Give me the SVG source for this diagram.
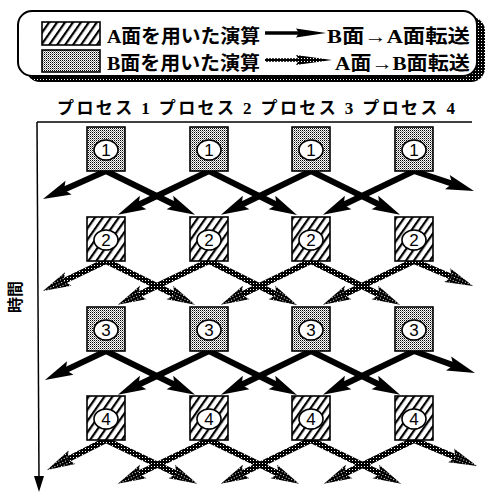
<svg xmlns="http://www.w3.org/2000/svg" width="487" height="493" viewBox="0 0 487 493">
<style>
.jp{font-family:"Liberation Serif","Noto Sans CJK JP",serif;font-weight:bold;fill:#000}
.lg{font-size:19px}
.num{font-family:"Liberation Sans",Arial,sans-serif;font-size:17px;text-anchor:middle;fill:#000}
.box{stroke:#000;stroke-width:1.6}
.bs{fill:url(#stipLight)}
.bh{fill:url(#hatch)}
.ring{fill:#fff;stroke:#000;stroke-width:1.6}
.sa{stroke:#000;stroke-width:6;fill:none;marker-end:url(#hs)}
.ta{stroke:url(#stipDark);stroke-width:6;fill:none;marker-end:url(#ht)}
</style>
<defs>
<pattern id="stipLight" width="2" height="2" patternUnits="userSpaceOnUse">
<rect width="2" height="2" fill="#fff"/>
<rect width="1" height="1" fill="#000"/>
<rect x="1" y="1" width="1" height="1" fill="#888"/>
</pattern>
<pattern id="stipDark" width="3" height="3" patternUnits="userSpaceOnUse">
<rect width="3" height="3" fill="#000"/>
<rect x="1" y="1" width="1" height="1" fill="#fff"/>
</pattern>
<pattern id="hatch" width="6.5" height="6.5" patternUnits="userSpaceOnUse" patternTransform="rotate(35)">
<rect width="6.5" height="6.5" fill="#fff"/>
<rect width="2.2" height="6.5" fill="#000"/>
</pattern>
<marker id="hs" markerUnits="userSpaceOnUse" markerWidth="30" markerHeight="16" refX="12" refY="8" orient="auto" overflow="visible">
<path d="M0,0.5 L28,8 L0,15.5 L5,8 Z" fill="#000"/>
</marker>
<marker id="ht" markerUnits="userSpaceOnUse" markerWidth="30" markerHeight="16" refX="12" refY="8" orient="auto" overflow="visible">
<path d="M0,0.5 L28,8 L0,15.5 L5,8 Z" fill="url(#stipDark)"/>
</marker>
</defs>
<rect width="487" height="493" fill="#fff"/>

<g id="legend">
<rect x="26" y="17" width="459" height="65" rx="14" fill="url(#stipDark)"/>
<rect x="18" y="11" width="459" height="65" rx="14" fill="#fff" stroke="#000" stroke-width="2"/>
<rect x="42" y="22" width="58" height="23" class="box bh"/>
<text x="107" y="43" class="jp lg" textLength="153" lengthAdjust="spacingAndGlyphs">A面を用いた演算</text>
<line x1="265" y1="33" x2="300" y2="33" stroke="#000" stroke-width="3.5"/>
<path d="M296,28.5 L326,33 L296,37.5 L299,33 Z" fill="#000"/>
<text x="327" y="43" class="jp lg" textLength="143" lengthAdjust="spacingAndGlyphs">B面→A面転送</text>
<rect x="42" y="50" width="58" height="22" class="box bs"/>
<text x="107" y="70" class="jp lg" textLength="153" lengthAdjust="spacingAndGlyphs">B面を用いた演算</text>
<line x1="265" y1="60" x2="300" y2="60" stroke="url(#stipDark)" stroke-width="3.5"/>
<path d="M296,55 L332,60 L296,65 L299,60 Z" fill="url(#stipDark)"/>
<text x="335" y="70" class="jp lg" textLength="135" lengthAdjust="spacingAndGlyphs">A面→B面転送</text>
</g>

<g id="axes">
<text x="57" y="114" class="jp" font-size="17" textLength="398" lengthAdjust="spacing">プロセス 1 プロセス 2 プロセス 3 プロセス 4</text>
<line x1="37" y1="122" x2="472" y2="122" stroke="#000" stroke-width="1.5"/>
<line x1="37" y1="122" x2="39" y2="480" stroke="#000" stroke-width="1.5"/>
<path d="M34,476 L44,476 L39,492 Z" fill="#000"/>
<text transform="translate(21,297) rotate(-90)" class="jp" font-size="16" text-anchor="middle">時間</text>
</g>

<g id="connectors">
<line class="sa" x1="106" y1="171" x2="57.6" y2="192.5"/>
<line class="sa" x1="106" y1="171" x2="180.7" y2="207.8"/>
<line class="sa" x1="209" y1="171" x2="132.3" y2="207.8"/>
<line class="sa" x1="209" y1="171" x2="282.7" y2="207.8"/>
<line class="sa" x1="311" y1="171" x2="235.3" y2="207.8"/>
<line class="sa" x1="311" y1="171" x2="385.7" y2="207.8"/>
<line class="sa" x1="414" y1="171" x2="337.3" y2="207.8"/>
<line class="sa" x1="414" y1="171" x2="458.8" y2="185.9"/>

<line class="ta" x1="106" y1="261" x2="57.4" y2="284.1"/>
<line class="ta" x1="106" y1="261" x2="180.7" y2="297.8"/>
<line class="ta" x1="209" y1="261" x2="132.3" y2="297.8"/>
<line class="ta" x1="209" y1="261" x2="282.7" y2="297.8"/>
<line class="ta" x1="311" y1="261" x2="235.3" y2="297.8"/>
<line class="ta" x1="311" y1="261" x2="385.7" y2="297.8"/>
<line class="ta" x1="414" y1="261" x2="337.3" y2="297.8"/>
<line class="ta" x1="414" y1="261" x2="458.3" y2="279.8"/>

<line class="sa" x1="106" y1="351" x2="59.4" y2="373.1"/>
<line class="sa" x1="106" y1="351" x2="180.7" y2="387.8"/>
<line class="sa" x1="209" y1="351" x2="132.3" y2="387.8"/>
<line class="sa" x1="209" y1="351" x2="282.7" y2="387.8"/>
<line class="sa" x1="311" y1="351" x2="235.3" y2="387.8"/>
<line class="sa" x1="311" y1="351" x2="385.7" y2="387.8"/>
<line class="sa" x1="414" y1="351" x2="337.3" y2="387.8"/>
<line class="sa" x1="414" y1="351" x2="459.9" y2="367.6"/>

<line class="ta" x1="106" y1="440" x2="61.3" y2="462.7"/>
<line class="ta" x1="106" y1="440" x2="182.7" y2="476.8"/>
<line class="ta" x1="209" y1="440" x2="132.3" y2="476.8"/>
<line class="ta" x1="209" y1="440" x2="284.7" y2="476.8"/>
<line class="ta" x1="311" y1="440" x2="235.3" y2="476.8"/>
<line class="ta" x1="311" y1="440" x2="386.7" y2="476.8"/>
<line class="ta" x1="414" y1="440" x2="338.3" y2="476.8"/>
<line class="ta" x1="414" y1="440" x2="462.2" y2="459.9"/>
</g>

<g id="p1-s1"><rect x="87" y="127" width="38" height="44" class="box bs"/><ellipse cx="106" cy="150" rx="12" ry="10" class="ring"/><text x="106" y="156" class="num">1</text></g>
<g id="p2-s1"><rect x="190" y="127" width="38" height="44" class="box bs"/><ellipse cx="209" cy="150" rx="12" ry="10" class="ring"/><text x="209" y="156" class="num">1</text></g>
<g id="p3-s1"><rect x="292" y="127" width="38" height="44" class="box bs"/><ellipse cx="311" cy="150" rx="12" ry="10" class="ring"/><text x="311" y="156" class="num">1</text></g>
<g id="p4-s1"><rect x="395" y="127" width="38" height="44" class="box bs"/><ellipse cx="414" cy="150" rx="12" ry="10" class="ring"/><text x="414" y="156" class="num">1</text></g>

<g id="p1-s2"><rect x="87" y="217" width="38" height="44" class="box bh"/><ellipse cx="106" cy="240" rx="12" ry="10" class="ring"/><text x="106" y="246" class="num">2</text></g>
<g id="p2-s2"><rect x="190" y="217" width="38" height="44" class="box bh"/><ellipse cx="209" cy="240" rx="12" ry="10" class="ring"/><text x="209" y="246" class="num">2</text></g>
<g id="p3-s2"><rect x="292" y="217" width="38" height="44" class="box bh"/><ellipse cx="311" cy="240" rx="12" ry="10" class="ring"/><text x="311" y="246" class="num">2</text></g>
<g id="p4-s2"><rect x="395" y="217" width="38" height="44" class="box bh"/><ellipse cx="414" cy="240" rx="12" ry="10" class="ring"/><text x="414" y="246" class="num">2</text></g>

<g id="p1-s3"><rect x="87" y="307" width="38" height="44" class="box bs"/><ellipse cx="106" cy="330" rx="12" ry="10" class="ring"/><text x="106" y="336" class="num">3</text></g>
<g id="p2-s3"><rect x="190" y="307" width="38" height="44" class="box bs"/><ellipse cx="209" cy="330" rx="12" ry="10" class="ring"/><text x="209" y="336" class="num">3</text></g>
<g id="p3-s3"><rect x="292" y="307" width="38" height="44" class="box bs"/><ellipse cx="311" cy="330" rx="12" ry="10" class="ring"/><text x="311" y="336" class="num">3</text></g>
<g id="p4-s3"><rect x="395" y="307" width="38" height="44" class="box bs"/><ellipse cx="414" cy="330" rx="12" ry="10" class="ring"/><text x="414" y="336" class="num">3</text></g>

<g id="p1-s4"><rect x="87" y="396" width="38" height="44" class="box bh"/><ellipse cx="106" cy="419" rx="12" ry="10" class="ring"/><text x="106" y="425" class="num">4</text></g>
<g id="p2-s4"><rect x="190" y="396" width="38" height="44" class="box bh"/><ellipse cx="209" cy="419" rx="12" ry="10" class="ring"/><text x="209" y="425" class="num">4</text></g>
<g id="p3-s4"><rect x="292" y="396" width="38" height="44" class="box bh"/><ellipse cx="311" cy="419" rx="12" ry="10" class="ring"/><text x="311" y="425" class="num">4</text></g>
<g id="p4-s4"><rect x="395" y="396" width="38" height="44" class="box bh"/><ellipse cx="414" cy="419" rx="12" ry="10" class="ring"/><text x="414" y="425" class="num">4</text></g>
</svg>
